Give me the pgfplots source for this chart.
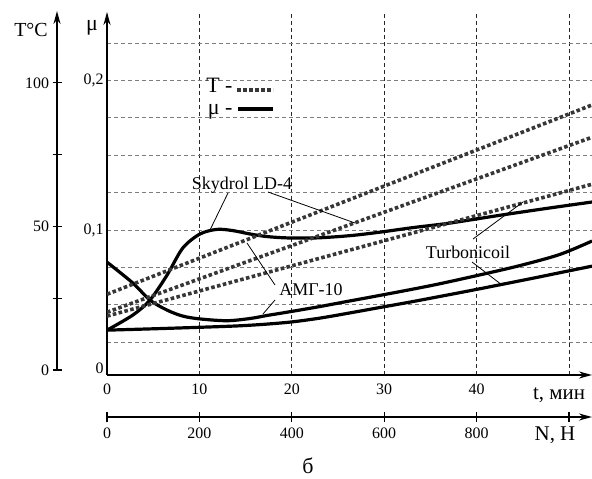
\documentclass[border=0pt]{standalone}
\usepackage{fontspec}
\setmainfont{Liberation Serif}
\usepackage{pgfplots}
\pgfplotsset{compat=1.18}
\usetikzlibrary{arrows.meta}

\definecolor{dotgray}{RGB}{55,55,55}
\definecolor{gridgray}{RGB}{125,125,125}

\tikzset{
  Tline/.style={dotgray, line width=3.6bp, dash pattern=on 3.6bp off 2.4bp},
  mucurve/.style={black, line width=3.2bp, smooth, tension=0.5},
  leader/.style={black, line width=0.8bp},
}

\begin{document}
\begin{tikzpicture}
\useasboundingbox (0,0) rectangle (592bp,479bp);

% main axis: friction coefficient mu versus time t
\begin{axis}[
  at={(107bp,104bp)}, anchor=south west,
  scale only axis, width=485bp, height=363bp,
  xmin=0, xmax=52.5, ymin=0.003, ymax=0.2458,
  axis lines=left,
  axis line style={line width=1.6bp, -{Stealth[length=13bp,width=7bp]}},
  xtick={0,10,20,30,40,50},
  xticklabels={0,10,20,30,40,{}},
  ytick={0.025,0.05,0.075,0.1,0.125,0.15,0.175,0.2,0.225},
  yticklabels={},
  extra y ticks={0.0076,0.1,0.2},
  extra y tick labels={0,{0,1},{0,2}},
  extra y tick style={grid=none},
  major tick length=0pt,
  grid=major,
  major x grid style={black!85, line width=0.8bp, dash pattern=on 4bp off 3bp},
  major y grid style={gridgray, line width=0.8bp, dash pattern=on 4bp off 3bp},
  tick label style={font=\fontsize{16}{19}\selectfont},
  xticklabel style={yshift=-5bp},
  /pgf/number format/assume math mode=true,
]
% Skydrol LD-4
\addplot[mucurve] coordinates {
  (0,0.0330)(2.8,0.0431)(4.65,0.0531)(6.5,0.0698)(8.2,0.0879)(10.06,0.0973)
  (11.9,0.1004)(13.6,0.0996)(15.5,0.0973)(17.3,0.0956)(19.5,0.0947)
  (22.7,0.0947)(26.3,0.0962)(29.5,0.0985)(33,0.1015)(37.1,0.1046)
  (42.5,0.1098)(47.9,0.1147)(52.5,0.1187)};
% AMG-10
\addplot[mucurve] coordinates {
  (0,0.0785)(2.8,0.0645)(4.65,0.0531)(6.5,0.0464)(8.2,0.0424)(10.06,0.0405)
  (13,0.0393)(15.5,0.0408)(17.3,0.0428)(19,0.0445)(22.7,0.0484)(26,0.0522)
  (29.5,0.0562)(33,0.0603)(36,0.0640)(40.4,0.0700)(44.7,0.0762)(49,0.0836)
  (52.5,0.0926)};
% Turbonicoil
\addplot[mucurve] coordinates {
  (0,0.0330)(5,0.0339)(10,0.0349)(14,0.0358)(17,0.0369)(20,0.0385)
  (23,0.0410)(26,0.0442)(29.5,0.0481)(33,0.0520)(36,0.0555)(39.3,0.0594)
  (42.5,0.0633)(46,0.0676)(49,0.0714)(52.5,0.0758)};
\end{axis}

% overlay axis: temperature T versus time t (dotted lines)
\begin{axis}[
  at={(107bp,104bp)}, anchor=south west,
  scale only axis, width=485bp, height=363bp,
  xmin=0, xmax=52.5, ymin=1.5, ymax=122.9,
  hide axis,
]
\addplot[Tline] coordinates {(0,28.5)(52.5,91.8)};
\addplot[Tline] coordinates {(0,22.5)(52.5,81.0)};
\addplot[Tline] coordinates {(0,21.2)(52.5,65.3)};
\end{axis}

% separate temperature scale
\begin{axis}[
  at={(57bp,109bp)}, anchor=south west,
  scale only axis, width=1bp, height=359bp,
  xmin=0, xmax=1, ymin=0, ymax=125,
  axis x line=none, axis y line=left,
  axis line style={line width=1.6bp, -{Stealth[length=13bp,width=7bp]}},
  ytick={0,25,50,75,100},
  yticklabels={0,{},50,{},100},
  tick align=center, major tick length=9bp,
  tick style={line width=1.2bp, black},
  tick label style={font=\fontsize{16}{19}\selectfont},
  /pgf/number format/assume math mode=true,
]
\end{axis}

% load scale N
\begin{axis}[
  at={(107bp,62bp)}, anchor=south west,
  scale only axis, width=485bp, height=10bp,
  xmin=0, xmax=1050, ymin=0, ymax=1,
  axis x line=bottom, axis y line=none,
  axis line style={line width=1.6bp, -{Stealth[length=13bp,width=7bp]}},
  xtick={0,200,400,600,800,1000},
  xticklabels={0,200,400,600,800,{}},
  tick align=center, major tick length=10bp,
  tick style={line width=1.2bp, black},
  tick label style={font=\fontsize{16}{19}\selectfont},
  xticklabel style={yshift=-2bp},
  /pgf/number format/assume math mode=true,
]
\end{axis}

% axis titles
\node[font=\fontsize{20}{22}\selectfont] at (31bp,449bp) {T°C};
\node[font=\fontsize{22}{24}\selectfont] at (92bp,451bp) {μ};
\node[font=\fontsize{21}{23}\selectfont] at (559bp,84bp) {t, мин};
\node[font=\fontsize{21}{23}\selectfont] at (555bp,44bp) {N, Н};
\node[font=\fontsize{22}{24}\selectfont] at (308bp,13bp) {б};

% legend
\node[anchor=base east, font=\fontsize{22}{24}\selectfont] at (236bp,386bp) {T -};
\draw[Tline] (237bp,389bp) -- (273bp,389bp);
\node[anchor=base east, font=\fontsize{22}{24}\selectfont] at (236bp,364bp) {μ -};
\draw[black, line width=3.5bp] (238bp,370bp) -- (273bp,370bp);

% curve labels and leaders
\node[font=\fontsize{18}{20}\selectfont] at (242bp,294bp) {Skydrol LD-4};
\draw[leader] (228bp,286bp) -- (210bp,249bp);
\draw[leader] (268bp,287bp) -- (355bp,256bp);
\node[font=\fontsize{18}{20}\selectfont] at (311bp,189bp) {АМГ-10};
\draw[leader] (275bp,194bp) -- (247bp,236bp);
\draw[leader] (275bp,179bp) -- (263bp,165bp);
\node[font=\fontsize{18}{20}\selectfont] at (468bp,227bp) {Turbonicoil};
\draw[leader] (473bp,240bp) -- (523bp,277bp);
\draw[leader] (472bp,217bp) -- (502bp,194bp);
\end{tikzpicture}
\end{document}
